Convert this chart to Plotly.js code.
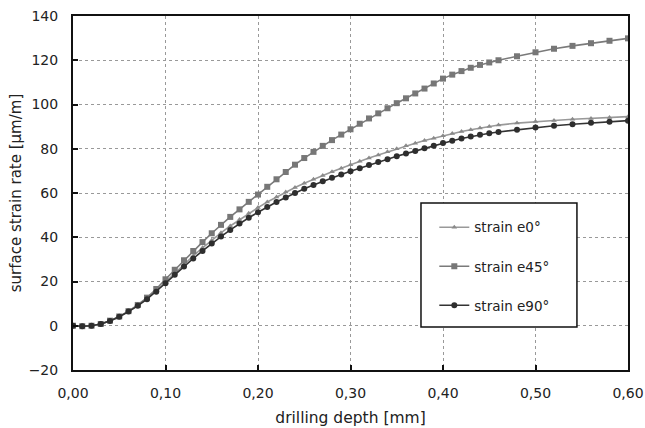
<!DOCTYPE html>
<html>
<head>
<meta charset="utf-8">
<script src="https://cdn.plot.ly/plotly-3.0.1.min.js"></script>
<style>html,body{margin:0;padding:0;background:#fff;}#chart{width:645px;height:428px;}</style>
</head>
<body>
<div id="chart"></div>
<script>
const depth = [0.00,0.01,0.02,0.03,0.04,0.05,0.06,0.07,0.08,0.09,
  0.10,0.11,0.12,0.13,0.14,0.15,0.16,0.17,0.18,0.19,
  0.20,0.21,0.22,0.23,0.24,0.25,0.26,0.27,0.28,0.29,
  0.30,0.31,0.32,0.33,0.34,0.35,0.36,0.37,0.38,0.39,
  0.40,0.41,0.42,0.43,0.44,0.45,0.46,0.48,0.50,0.52,
  0.54,0.56,0.58,0.60];
const strainE0 = [0,-0.2,0,0.8,2.2,4.1,6.4,9.1,12.2,15.8,
  19.8,23.8,27.8,31.6,35.2,38.7,42.0,45.1,48.0,50.8,
  53.4,55.9,58.2,60.4,62.5,64.4,66.2,67.9,69.6,71.2,
  72.8,74.3,75.8,77.2,78.6,80.0,81.3,82.5,83.7,84.8,
  85.9,86.9,87.8,88.6,89.4,90.1,90.7,91.6,92.3,92.8,
  93.3,93.7,94.1,94.5];
const strainE45 = [0,-0.2,0,0.8,2.3,4.2,6.6,9.4,12.7,16.6,
  21.0,25.3,29.6,33.8,37.8,41.8,45.6,49.2,52.6,56.0,
  59.3,62.8,66.2,69.5,72.8,75.8,78.6,81.3,83.9,86.4,
  88.8,91.3,93.7,96.0,98.3,100.6,102.8,105.0,107.2,109.5,
  111.7,113.5,115.1,116.6,117.9,119.0,120.0,121.8,123.6,125.2,
  126.5,127.7,128.8,129.9];
const strainE90 = [0,-0.2,0,0.8,2.2,4.1,6.4,9.0,12.0,15.4,
  19.2,23.0,26.8,30.4,33.8,37.2,40.3,43.3,46.2,48.8,
  51.3,53.7,55.9,58.0,60.0,61.9,63.6,65.3,66.9,68.4,
  69.8,71.2,72.6,74.0,75.3,76.6,77.8,79.0,80.2,81.4,
  82.6,83.6,84.6,85.5,86.3,87.0,87.6,88.6,89.6,90.4,
  91.1,91.7,92.2,92.7];
const seriesNames = ['strain e0°','strain e45°','strain e90°'];

const wide = 'DejaVu Sans, Verdana, sans-serif';
const traces = [
  {x: depth, y: strainE0, name: seriesNames[0], legendgroup:'a', mode:'lines+markers',
   line:{color:'#999999', width:1.6}, marker:{symbol:'triangle-up', size:5, color:'#8a8a8a'}},
  {x: depth, y: strainE45, name: seriesNames[1], legendgroup:'b', mode:'lines+markers',
   line:{color:'#7a7a7a', width:1.6}, marker:{symbol:'square', size:6, color:'#777777'}},
  {x: depth, y: strainE90, name: seriesNames[2], legendgroup:'c', mode:'lines+markers',
   line:{color:'#333333', width:1.6}, marker:{symbol:'circle', size:6, color:'#2e2e2e'}}
];
const layout = {
  width:645, height:428,
  margin:{l:73, r:17, t:16, b:58},
  paper_bgcolor:'#fff', plot_bgcolor:'#fff',
  separators:', ',
  font:{family:wide, size:14, color:'#222'},
  showlegend:true,
  xaxis:{range:[0,0.6], dtick:0.1, tick0:0, tickformat:'.2f',
    showline:true, linecolor:'#111', linewidth:2, mirror:true,
    ticks:'inside', ticklen:5, tickwidth:2, tickcolor:'#111',
    showgrid:true, gridcolor:'#999', griddash:'dot', gridwidth:1,
    zeroline:false, ticklabelstandoff:9,
    tickfont:{family:wide, size:14},
    title:{text:'drilling depth [mm]', font:{family:wide, size:15.5}, standoff:12}},
  yaxis:{range:[-20,140], dtick:20, tick0:0,
    showline:true, linecolor:'#111', linewidth:2, mirror:true,
    ticks:'inside', ticklen:5, tickwidth:2, tickcolor:'#111',
    showgrid:true, gridcolor:'#999', griddash:'dot', gridwidth:1,
    zeroline:false, ticklabelstandoff:10,
    tickfont:{family:wide, size:14},
    title:{text:'surface strain rate [µm/m]', font:{family:wide, size:15}, standoff:3}},
  shapes:[{type:'rect', xref:'paper', yref:'paper', x0:0.627, x1:0.908, y0:0.1215, y1:0.472,
    line:{color:'#111', width:1.5}, fillcolor:'#fff', layer:'above'}],
  legend:{x:0.651, y:0.4465, xanchor:'left', yanchor:'top', bgcolor:'rgba(0,0,0,0)',
    borderwidth:0, tracegroupgap:18.5, font:{family:wide, size:13.5, color:'#222'}}
};
Plotly.newPlot('chart', traces, layout, {displayModeBar:false, staticPlot:true});
</script>
</body>
</html>
